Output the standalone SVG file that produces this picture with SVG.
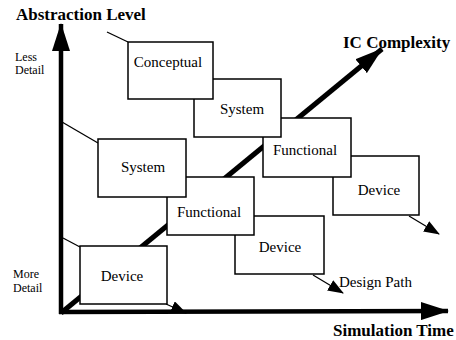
<svg xmlns="http://www.w3.org/2000/svg" width="456" height="340" viewBox="0 0 456 340" font-family="'Liberation Serif', 'Times New Roman', 'DejaVu Serif', serif">
<defs>
<style>
text{font-family:'Liberation Serif','Times New Roman','DejaVu Serif',serif;fill:#000}
.box rect{fill:#fff;stroke:#000;stroke-width:1.5}
.box text{font-size:15px;text-anchor:middle}
.b{font-weight:bold;font-size:17px}
.s{font-size:12px}
.thin{stroke:#000;stroke-width:1.3;fill:none}
.thick{stroke:#000;fill:none}
</style>
<marker id="ah" markerUnits="userSpaceOnUse" markerWidth="16" markerHeight="12" refX="15" refY="6" orient="auto">
<path d="M0,0 L16,6 L0,12 Z" fill="#000"/>
</marker>
<marker id="big" markerUnits="userSpaceOnUse" markerWidth="28" markerHeight="18" refX="27" refY="9" orient="auto">
<path d="M0,0 L28,9 L0,18 Z" fill="#000"/>
</marker>
</defs>
<rect width="456" height="340" fill="#fff"/>

<g id="connectors">
<line class="thick" x1="61" y1="314" x2="61" y2="24" stroke-width="4.5" marker-end="url(#big)"/>
<line class="thick" x1="59" y1="312" x2="448" y2="311" stroke-width="4.5" marker-end="url(#big)"/>
<line class="thick" x1="61" y1="313" x2="382" y2="49" stroke-width="5" marker-end="url(#big)"/>
<line class="thin" x1="107" y1="32" x2="128" y2="42"/>
<line class="thin" x1="62" y1="122" x2="98" y2="143"/>
<line class="thin" x1="63" y1="238" x2="80" y2="247"/>
<line class="thin" x1="409" y1="216" x2="439" y2="234" marker-end="url(#ah)"/>
<line class="thin" x1="313" y1="275" x2="343" y2="293" marker-end="url(#ah)"/>
<line class="thin" x1="166" y1="304" x2="186" y2="313" marker-end="url(#ah)"/>
</g>

<g id="device-right" class="box"><rect x="333" y="156" width="86" height="59"/><text x="379" y="195">Device</text></g>
<g id="functional-upper" class="box"><rect x="263" y="118" width="88" height="59"/><text x="305" y="155">Functional</text></g>
<g id="system-upper" class="box"><rect x="194" y="79" width="87" height="58"/><text x="242" y="114">System</text></g>
<g id="conceptual" class="box"><rect x="128" y="42" width="85" height="57"/><text x="168" y="67">Conceptual</text></g>

<g id="device-middle" class="box"><rect x="235" y="216" width="89" height="58"/><text x="280" y="252">Device</text></g>
<g id="functional-lower" class="box"><rect x="167" y="177" width="87" height="58"/><text x="209" y="217">Functional</text></g>
<g id="system-lower" class="box"><rect x="98" y="139" width="88" height="58"/><text x="143" y="172">System</text></g>
<g id="device-lower" class="box"><rect x="80" y="246" width="87" height="58"/><text x="122" y="281">Device</text></g>

<g id="labels">
<text class="b" x="16" y="20">Abstraction Level</text>
<text class="b" x="343" y="48">IC Complexity</text>
<text class="b" x="333" y="336">Simulation Time</text>
<text class="s" x="15" y="61">Less</text>
<text class="s" x="15" y="74">Detail</text>
<text class="s" x="13" y="278">More</text>
<text class="s" x="13" y="292">Detail</text>
<text x="339" y="287" font-size="15">Design Path</text>
</g>
</svg>
